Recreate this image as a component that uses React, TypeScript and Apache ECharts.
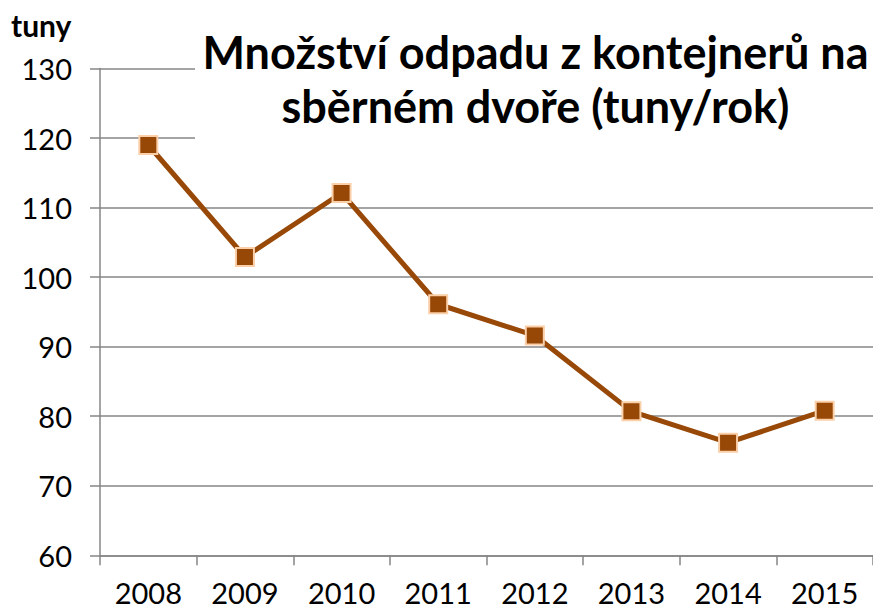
import React, { useEffect, useRef } from "react";
import * as echarts from "echarts";

const years = ["2008", "2009", "2010", "2011", "2012", "2013", "2014", "2015"];
const tonnes = [119.0, 102.9, 112.1, 96.1, 91.6, 80.7, 76.2, 80.8];
const titleLines = ["Množství odpadu z kontejnerů na", "sběrném dvoře (tuny/rok)"];
const unitLabel = "tuny";

export default function App() {
  const ref = useRef<HTMLDivElement>(null);
  useEffect(() => {
    if (!ref.current) return;
    const chart = echarts.init(ref.current, undefined, { renderer: "svg" });
    const font = "Lato, 'Open Sans', sans-serif";
    chart.setOption({
      animation: false,
      backgroundColor: "#ffffff",
      grid: { left: 100, right: 0, top: 68.5, bottom: 54.7, containLabel: false },
      xAxis: {
        type: "category",
        data: years,
        boundaryGap: true,
        axisLine: { lineStyle: { color: "#868686", width: 1.5 } },
        axisTick: { show: true, length: 10, lineStyle: { color: "#868686", width: 1.5 } },
        axisLabel: { color: "#000", fontSize: 29, fontFamily: font, margin: 23 },
        splitLine: { show: false },
      },
      yAxis: {
        type: "value",
        min: 60,
        max: 130,
        interval: 10,
        axisLine: { show: true, lineStyle: { color: "#868686", width: 1.5 } },
        axisTick: { show: true, length: 10, lineStyle: { color: "#868686", width: 1.5 } },
        axisLabel: { color: "#000", fontSize: 29, fontFamily: font, margin: 28 },
        splitLine: { show: true, lineStyle: { color: "#868686", width: 1.5 } },
      },
      series: [
        {
          type: "line",
          data: tonnes,
          symbol: "rect",
          symbolSize: 18,
          z: 3,
          lineStyle: { color: "#984807", width: 5 },
          itemStyle: { color: "#974706", borderColor: "#FBCFA8", borderWidth: 2 },
        },
      ],
      graphic: [
        {
          type: "rect",
          z: 1,
          shape: { x: 195, y: 22, width: 678, height: 122 },
          style: { fill: "#ffffff" },
        },
        {
          type: "text",
          z: 5,
          style: {
            text: titleLines.join("\n"),
            x: 535.5,
            y: 24.5,
            textAlign: "center",
            textVerticalAlign: "top",
            font: `bold 45px ${font}`,
            lineHeight: 54,
            fill: "#000",
          },
        },
        {
          type: "text",
          z: 5,
          style: {
            text: unitLabel,
            x: 11,
            y: 10,
            textVerticalAlign: "top",
            font: `bold 30px ${font}`,
            fill: "#000",
          },
        },
      ],
    });
    return () => chart.dispose();
  }, []);
  return (
    <div
      ref={ref}
      style={{ position: "fixed", left: 0, top: 0, width: 873, height: 610 }}
    />
  );
}
